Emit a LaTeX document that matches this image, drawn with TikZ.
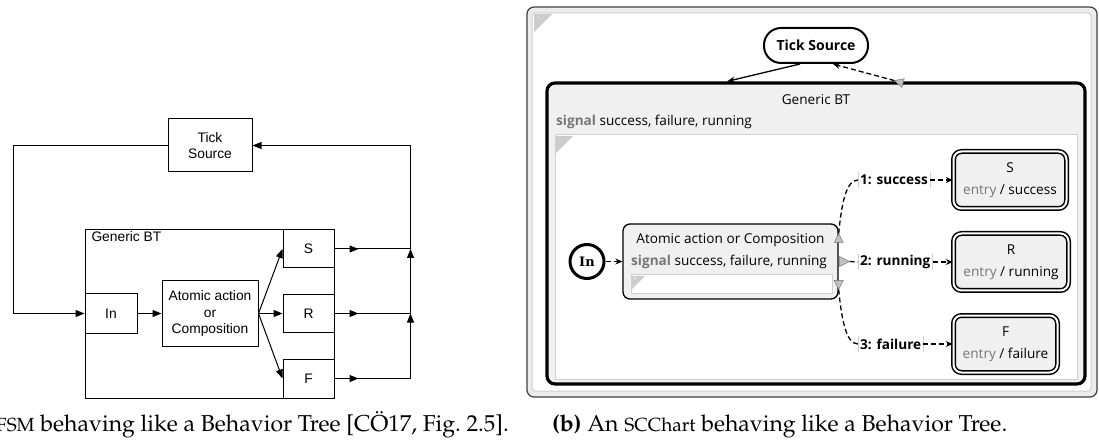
\documentclass[tikz,border=0pt]{standalone}
\usepackage[T1]{fontenc}
\usepackage{fontspec}
\usetikzlibrary{arrows.meta,calc}
\newfontfamily\lsans{Liberation Sans}
\newfontfamily\nsans{Open Sans}
\newfontfamily\dserif{DejaVu Serif}
\newcommand\capfont{\fontencoding{T1}\fontfamily{ppl}\fontsize{23}{27}\selectfont}
\newcommand\capsmall{\fontsize{19}{22}\selectfont}
\definecolor{stfill}{RGB}{240,240,240}
\definecolor{regline}{RGB}{208,208,208}
\definecolor{kwgray}{RGB}{118,118,118}
\definecolor{portgray}{RGB}{192,192,192}
\definecolor{framegray}{RGB}{236,236,236}
\begin{document}
\begin{tikzpicture}[x=1pt,y=-1pt,
  lbox/.style={draw, line width=1pt, inner sep=0pt, align=center,
    font=\lsans\fontsize{13.8}{16.3}\selectfont},
  larr/.style={-{Triangle[length=9pt,width=7pt]}, line width=1pt},
  lline/.style={line width=1pt},
  sfont/.style={font=\nsans\fontsize{13.6}{16}\selectfont},
  state/.style={draw, line width=1.5pt, double=white, double distance=2pt,
    rounded corners=8pt, fill=stfill, align=center,
    font=\nsans\fontsize{13.6}{22}\selectfont},
  trlabel/.style={font=\nsans\bfseries\fontsize{13.6}{16}\selectfont,
    inner xsep=2pt, inner ysep=0pt, minimum height=16pt},
  bar/.style={draw=regline, line width=0.8pt},
  trans/.style={line width=1.3pt, dash pattern=on 5pt off 3pt},
  tarr/.style={trans, -{Stealth[length=7pt,width=6pt]}},
  port/.style={fill=portgray, draw=black!55, line width=0.5pt},
  marker/.style={fill=black!20},
]
\useasboundingbox (0,0) rectangle (1099,443);

% ---------------- (a) finite state machine ----------------
\node[lbox, minimum width=84pt, minimum height=53pt] (tickA) at (210,145.5) {Tick\\Source};
\node[lbox, minimum width=249pt, minimum height=168pt] (btA) at (209.5,314) {};
\node[lbox, draw=none, anchor=north west] (btAlabel) at (91,231) {Generic BT};
\node[lbox, minimum width=52pt, minimum height=39pt] (inA) at (111,313.5) {In};
\node[lbox, minimum width=96pt, minimum height=65pt] (atomA) at (210,313.5) {Atomic action\\or\\Composition};
\node[lbox, minimum width=51pt, minimum height=38pt] (sA) at (308.5,249) {S};
\node[lbox, minimum width=51pt, minimum height=37pt] (rA) at (308.5,313.5) {R};
\node[lbox, minimum width=51pt, minimum height=39pt] (fA) at (308.5,378.5) {F};

\coordinate (cornerA) at (13,145.5);
\draw[larr] (tickA.west) -- (cornerA) |- (inA.west);
\draw[larr] (inA) -- (atomA);
\draw[larr] (atomA.east) -- (sA.west);
\draw[larr] (atomA.east) -- (rA.west);
\draw[larr] (atomA.east) -- (fA.west);

\coordinate (busS) at ($(sA.east)+(76,0)$);
\coordinate (busR) at (busS |- rA.east);
\coordinate (busF) at (busS |- fA.east);
\foreach \n/\b in {sA/busS, rA/busR, fA/busF} {
  \draw[lline] (\n.east) -- (\b);
  \draw[larr] (\n.east) -- ++(24,0);
}
\draw[larr] (busF) -- (busR);
\draw[larr] (busR) -- (busS);
\draw[larr] (busS) |- (tickA.east);

% ---------------- (b) SCChart ----------------
% root frame
\draw[draw=black!75, line width=1.2pt, fill=framegray, rounded corners=7pt] (527,7) rectangle (1097,397);
\draw[draw=regline, line width=1pt, fill=white, rounded corners=3pt] (532,13) rectangle (1091,391);
\fill[marker] (534,14) -- (552,14) -- (534,32) -- cycle;
\node[font=\nsans\fontsize{7}{7}\selectfont, text=white, inner sep=0pt] (rootmark) at (538.5,18.5) {-};

% tick source
\node[draw, line width=2pt, rounded corners=17pt, minimum width=104pt, minimum height=35pt,
  fill=white, font=\nsans\bfseries\fontsize{14}{16}\selectfont] (tick) at (816,45.5) {Tick Source};

% Generic BT super state
\node[draw, line width=3.2pt, rounded corners=8pt, fill=stfill,
  minimum width=538pt, minimum height=301pt] (gbt) at (816,233.5) {};
\node[sfont] (gbttitle) at (816,100) {Generic BT};
\node[sfont, anchor=west, inner sep=0pt] (gbtsig) at (556,122)
  {{\bfseries\color{kwgray}signal} success, failure, running};
\draw[draw=regline, line width=1pt, fill=white] (555,135) rectangle (1077,379);
\fill[marker] (556,136) -- (573,136) -- (556,153) -- cycle;
\node[font=\nsans\fontsize{7}{7}\selectfont, text=white, inner sep=0pt] (regmark) at (560,140) {-};

% connections with the tick source
\draw[line width=1.3pt, -{Stealth[length=8pt,width=6pt]}]
  ($(tick.south)+(-16,0)$) -- ($(gbt.north)+(-89,0)$);
\draw[tarr] (894.4,80.6) -- ($(tick.south)+(17,0)$);
\draw[port] (894.4,80.6) -- (904.2,78.7) -- (901.8,87.3) -- cycle;

% initial state
\node[circle, draw, line width=3pt, minimum size=34pt, inner sep=0pt, fill=white,
  font=\dserif\bfseries\fontsize{13}{14}\selectfont] (in) at (587,261.5) {In};

% atomic action state
\node[draw, line width=1.3pt, rounded corners=7pt, fill=stfill,
  minimum width=215pt, minimum height=75pt] (atom) at (730.5,261.5) {};
\node[sfont] (atomtitle) at (730.5,240) {Atomic action or Composition};
\node[sfont, anchor=west, inner sep=0pt] (atomsig) at (631,262)
  {{\bfseries\color{kwgray}signal} success, failure, running};
\draw[draw=regline, line width=1pt, fill=white] (631,275) rectangle (832,294);
\fill[marker] (632,276) -- (645,276) -- (632,289) -- cycle;
\node[font=\nsans\fontsize{7}{7}\selectfont, text=white, inner sep=0pt] (atommark) at (635,279) {+};

\draw[tarr] (in) -- (atom);

% result states
\node[state, minimum width=113pt, minimum height=57pt] (S) at (1010,180)
  {S\\{\color{kwgray}entry} / success};
\node[state, minimum width=115pt, minimum height=57pt] (R) at (1011,262)
  {R\\{\color{kwgray}entry} / running};
\node[state, minimum width=104pt, minimum height=57pt] (F) at (1005.5,344)
  {F\\{\color{kwgray}entry} / failure};

% transition labels
\node[trlabel, anchor=west] (l1) at (858,180) {1: success};
\node[trlabel, anchor=west] (l2) at (858,262) {2: running};
\node[trlabel, anchor=west] (l3) at (858,344) {3: failure};
\foreach \l in {l1,l2,l3} {
  \draw[bar] (\l.north west) -- (\l.south west);
  \draw[bar] (\l.north east) -- (\l.south east);
}

% ports of the atomic state
\coordinate (pu) at ($(atom.east)+(0,-28)$);
\coordinate (pm) at ($(atom.east)+(11,0)$);
\coordinate (pd) at ($(atom.east)+(0,28)$);
\draw[trans] (pu) .. controls ($(pu)+(3,-30)$) and ($(l1.west)+(-12,0)$) .. (l1.west);
\draw[trans] (pm) -- (l2.west);
\draw[trans] (pd) .. controls ($(pd)+(3,30)$) and ($(l3.west)+(-12,0)$) .. (l3.west);
\draw[tarr] (l1.east) -- (S.west);
\draw[tarr] (l2.east) -- (R.west);
\draw[tarr] (l3.east) -- (F.west);
\draw[port] (pu) -- ($(pu)+(-4.5,9)$) -- ($(pu)+(4.5,9)$) -- cycle;
\draw[port] (pm) -- ($(pm)+(-10,-5)$) -- ($(pm)+(-10,5)$) -- cycle;
\draw[port] (pd) -- ($(pd)+(-4.5,-9)$) -- ($(pd)+(4.5,-9)$) -- cycle;

% ---------------- captions ----------------
\node[anchor=base west, inner sep=0pt, font=\capfont] (capA) at (-4,431)
  {{\capsmall FSM} behaving like a Behavior Tree [C\"O17, Fig.~2.5].};
\node[anchor=base west, inner sep=0pt, font=\capfont] (capB) at (552,431)
  {\textbf{(b)} An {\capsmall SCChart} behaving like a Behavior Tree.};
\end{tikzpicture}
\end{document}
